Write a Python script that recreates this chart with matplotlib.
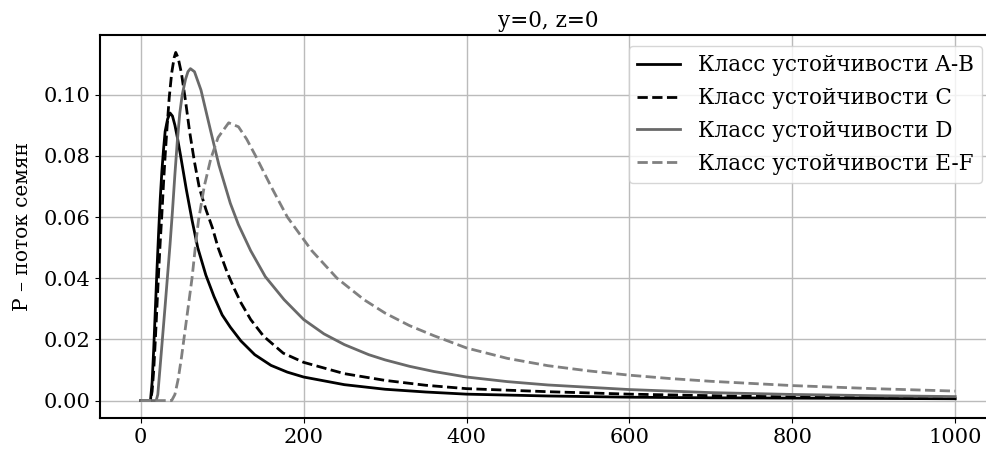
import numpy as np
import matplotlib
matplotlib.use("Agg")
import matplotlib.pyplot as plt

plt.rcParams['font.family'] = ['DejaVu Serif']
plt.rcParams['font.size'] = 15

# values
x_ab = [0, 10, 12, 14, 16, 18, 20, 22, 24, 26, 28, 30, 33, 36, 39, 42, 45, 49, 56, 63, 70, 80, 90, 100,
        110, 123, 140, 160, 180, 200, 250, 300, 350, 400, 500, 600, 700, 800, 900, 1000]
y_ab = [0, 0, 0, 0.006, 0.017, 0.030, 0.043, 0.055, 0.066, 0.075, 0.082, 0.088, 0.092, 0.094, 0.093,
        0.090, 0.086, 0.080, 0.069, 0.059, 0.050, 0.041, 0.034, 0.028, 0.024, 0.0195, 0.015, 0.0115,
        0.0093, 0.0077, 0.0052, 0.0037, 0.0028, 0.0021, 0.0015, 0.0011, 0.0009, 0.0008, 0.0007, 0.0006]

x_c = [0, 12, 14, 16, 18, 20, 22, 24, 26, 28, 30, 32, 35, 38, 41, 43, 46, 50, 55, 60, 66, 72, 80, 88,
       95, 106, 115, 123, 135, 151, 175, 200, 250, 300, 350, 400, 500, 600, 700, 800, 900, 1000]
y_c = [0, 0, 0.003, 0.010, 0.020, 0.031, 0.042, 0.052, 0.061, 0.071, 0.080, 0.088, 0.099, 0.107, 0.112,
       0.1138, 0.112, 0.107, 0.098, 0.088, 0.078, 0.0695, 0.0625, 0.0565, 0.050, 0.042, 0.0365, 0.032,
       0.0265, 0.021, 0.0155, 0.0125, 0.0088, 0.0066, 0.0050, 0.0039, 0.0029, 0.0021, 0.0016, 0.0012,
       0.0010, 0.0008]

x_d = [0, 19, 21, 23.5, 26.6, 30, 33, 36, 39, 42, 45, 48, 51, 55, 58, 61, 66, 74, 86, 96, 110, 120,
       135, 153, 176, 200, 225, 250, 280, 300, 330, 360, 400, 450, 500, 600, 700, 800, 900, 1000]
y_d = [0, 0, 0.002, 0.010, 0.020, 0.031, 0.041, 0.051, 0.062, 0.074, 0.085, 0.094, 0.100, 0.105,
       0.1075, 0.1085, 0.1075, 0.1015, 0.088, 0.077, 0.0645, 0.0575, 0.049, 0.0405, 0.033, 0.0265,
       0.0218, 0.0183, 0.015, 0.0133, 0.0112, 0.0095, 0.0077, 0.0062, 0.0051, 0.0036, 0.0026, 0.0020,
       0.0016, 0.0013]

x_ef = [0, 38, 42, 46, 50, 53, 58, 63, 67, 71, 78, 86, 95, 108, 120, 130, 141, 160, 180, 210, 241,
        274, 300, 330, 360, 400, 450, 500, 550, 600, 650, 700, 800, 900, 1000]
y_ef = [0, 0, 0.002, 0.007, 0.014, 0.020, 0.030, 0.040, 0.050, 0.059, 0.070, 0.079, 0.086, 0.0908,
        0.0895, 0.0855, 0.080, 0.070, 0.060, 0.049, 0.040, 0.033, 0.0286, 0.0245, 0.0212, 0.0172,
        0.0138, 0.0114, 0.0097, 0.0083, 0.0072, 0.0063, 0.0049, 0.0039, 0.0031]

fig = plt.figure(figsize=(9.86, 4.53), dpi=100)
ax = fig.add_axes([0.1014, 0.0773, 0.9087, 0.8454])

ax.plot(x_ab, y_ab, color="black", lw=2, linestyle="-", label="Класс устойчивости A-B")
ax.plot(x_c, y_c, color="black", lw=2, linestyle="--", label="Класс устойчивости C")
ax.plot(x_d, y_d, color="dimgray", lw=2, linestyle="-", label="Класс устойчивости D")
ax.plot(x_ef, y_ef, color="gray", lw=2, linestyle="--", label="Класс устойчивости E-F")

ax.set_xlim(-50, 1050)
ax.set_title("y=0, z=0", fontsize=15.5)
ax.set_ylabel("P – поток семян", fontsize=14.5, labelpad=8)
ax.set_yticks([0.0, 0.02, 0.04, 0.06, 0.08, 0.10])
ax.grid(True, color="#bbbbbb", lw=1)
for s in ax.spines.values():
    s.set_linewidth(1.5)
ax.spines['right'].set_visible(False)
ax.legend(loc="upper right", fontsize=15.5, bbox_to_anchor=(0.9965, 1.0))

plt.savefig("out.png", dpi=100)
